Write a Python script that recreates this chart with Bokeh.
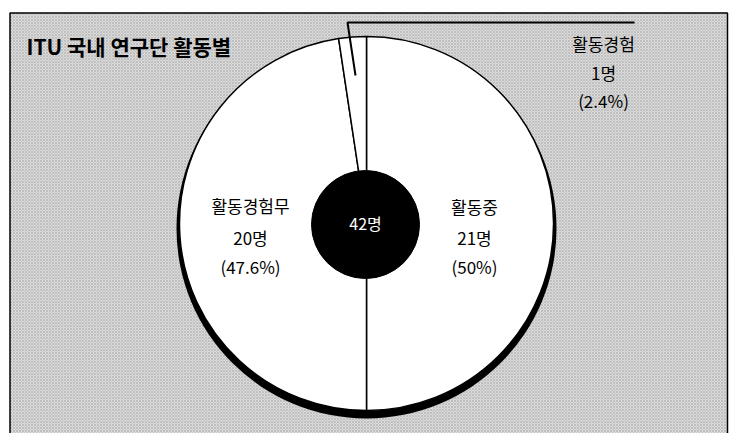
import numpy as np
from bokeh.plotting import figure
from bokeh.models import Range1d, ColumnDataSource
from bokeh.core.properties import value
from bokeh.embed import file_html
from bokeh.resources import INLINE

# ---- data ----
title_text = "ITU 국내 연구단 활동별"
categories = ["활동중", "활동경험무", "활동경험"]   # clockwise from 12 o'clock
counts = [21, 20, 1]
percents = ["50%", "47.6%", "2.4%"]
unit = "명"

# ---- layout helpers ----
W, H = 729, 433
IMG_H = 433


def Y(y):
    return IMG_H - y


p = figure(width=W, height=H, x_range=Range1d(0, W), y_range=Range1d(IMG_H - H, IMG_H),
           output_backend="svg", toolbar_location=None, min_border=0)
p.axis.visible = False
p.grid.visible = False
p.outline_line_color = None
p.background_fill_color = "white"
p.border_fill_color = "white"

KR = value("Noto Sans CJK KR")

# textured background panel
p.quad(left=[9.5], right=[727], top=[Y(12.5)], bottom=[-20],
       fill_color="#dcdcdc", hatch_pattern="diagonal_cross", hatch_color="#9a9a9a",
       hatch_scale=3, hatch_weight=0.6, hatch_alpha=0.75,
       line_color="black", line_width=1.5)

# title
p.text(x=[26], y=[Y(45)], text=[title_text], text_font=KR, text_font_size="21px",
       text_font_style="bold", text_baseline="middle", text_align="left", text_color="black")

# pie geometry
cx, cy, r = 366, Y(223), 187
p.circle(x=[cx], y=[Y(228)], radius=190, fill_color="black", line_color=None)

total = sum(counts)
cum = np.cumsum([0] + counts)
start = np.pi / 2 - 2 * np.pi * cum[:-1] / total
end = np.pi / 2 - 2 * np.pi * cum[1:] / total
src = ColumnDataSource(dict(cat=categories, start=start, end=end))
p.wedge(x=cx, y=cy, radius=r, start_angle="start", end_angle="end", direction="clock",
        fill_color="white", line_color="black", line_width=1.5, source=src)

# centre hole with total
p.circle(x=[365], y=[Y(224)], radius=54, fill_color="black", line_color="black")
p.text(x=[365], y=[Y(222)], text=[f"{total}{unit}"], text_font=KR, text_font_size="16px",
       text_color="white", text_align="center", text_baseline="middle")

# leader line for small slice
p.line(x=[355, 347, 634], y=[Y(75), Y(22), Y(22)], line_color="black", line_width=2)

# slice labels
label_pos = {
    "활동중": (474, [206, 237, 266]),
    "활동경험무": (250, [205, 237, 266]),
    "활동경험": (603, [43, 72, 100]),
}
lx, ly, lt = [], [], []
for cat, cnt, pct in zip(categories, counts, percents):
    x0, ys = label_pos[cat]
    for yy, t in zip(ys, [cat, f"{cnt}{unit}", f"({pct})"]):
        lx.append(x0)
        ly.append(Y(yy))
        lt.append(t)
p.text(x=lx, y=ly, text=lt, text_font=KR, text_font_size="17px", text_color="black",
       text_align="center", text_baseline="middle")

open("out.html", "w").write(file_html(p, INLINE))
